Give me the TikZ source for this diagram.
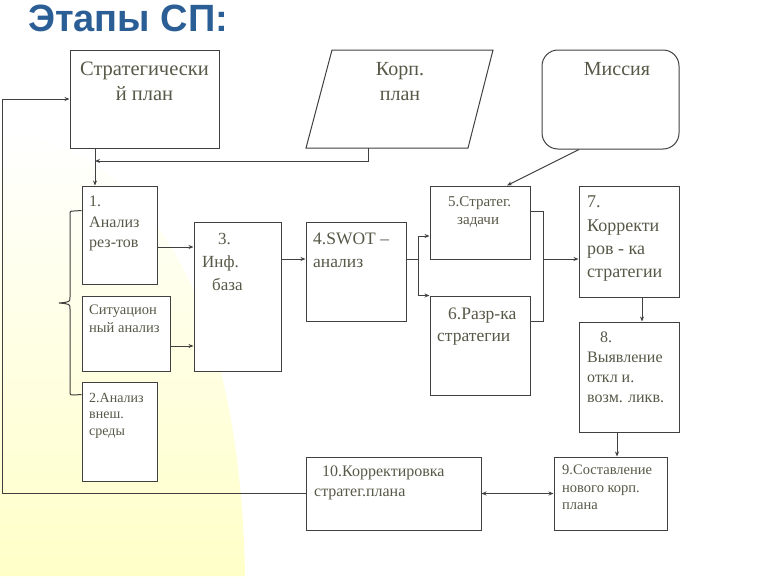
\documentclass[tikz,border=0pt]{standalone}
\usepackage{fontspec}
\setmainfont{Liberation Serif}
\newfontfamily\titlefont{Liberation Sans}
\usetikzlibrary{arrows.meta}

\definecolor{titleblue}{RGB}{44,94,150}
\definecolor{linegray}{RGB}{64,64,64}
\definecolor{txtgray}{RGB}{88,88,72}
\definecolor{glow}{RGB}{255,255,200}

\begin{document}
\begin{tikzpicture}[x=1pt, y=-1pt,
    box/.style={draw=linegray, fill=white, line width=1pt, inner sep=0pt},
    txt/.style={text=txtgray, inner sep=0pt, align=left, anchor=north west},
    ln/.style={draw=linegray, line width=1pt},
    arr/.style={ln, -{Stealth[length=5pt,width=4pt]}}]
  \useasboundingbox (0,0) rectangle (768,576);
  % background
  \shade[top color=white, bottom color=glow] (0,130) .. controls (150,150) and (240,300) .. (245,576)
    -- (0,576) -- cycle;
  \node[anchor=north west, inner sep=0pt, text=titleblue,
        font=\titlefont\bfseries\fontsize{38}{40}\selectfont] (title) at (28,5) {Этапы СП:};

  % top row
  \node[box, minimum width=149pt, minimum height=98pt] (sp) at (144.5,99) {};
  \node[txt, anchor=north, align=center, font=\fontsize{20.5}{25}\selectfont] (sp-t) at (144.5,62) {Стратегически\\й план};
  \draw[ln, fill=white] (332,50) -- (493,50) -- (468,148) -- (306,148) -- cycle;
  \coordinate (korp) at (368,148);
  \node[txt, anchor=north, align=center, font=\fontsize{20}{25}\selectfont] (korp-t) at (400,62) {Корп.\\план};
  \node[box, rounded corners=16pt, minimum width=137pt, minimum height=99pt] (mis) at (610.5,99.5) {};
  \node[txt, anchor=north, align=center, font=\fontsize{20}{25}\selectfont] (mis-t) at (617,62) {Миссия};

  % analysis column
  \node[box, minimum width=75pt, minimum height=98pt] (an1) at (119.5,235) {};
  \node[txt, font=\fontsize{16}{20.5}\selectfont] (an1-t) at (89,196) {1.\\Анализ\\рез-тов};
  \node[box, minimum width=88pt, minimum height=75pt] (sit) at (126,333.5) {};
  \node[txt, font=\fontsize{14.5}{18}\selectfont] (sit-t) at (89,305) {Ситуацион\\ный анализ};
  \node[box, minimum width=75pt, minimum height=99pt] (an2) at (119.5,431.5) {};
  \node[txt, font=\fontsize{14}{16.5}\selectfont] (an2-t) at (89,393) {2.Анализ\\внеш.\\среды};

  \node[box, minimum width=87pt, minimum height=149pt] (inf) at (237.5,296.5) {};
  \node[txt, font=\fontsize{17}{23}\selectfont] (inf-t) at (202,233) {\hspace*{16pt}3.\\Инф.\\\hspace*{10pt}база};
  \node[box, minimum width=100pt, minimum height=99pt] (swot) at (356,271.5) {};
  \node[txt, font=\fontsize{17.5}{23}\selectfont] (swot-t) at (313,233) {4.SWOT –\\анализ};
  \node[box, minimum width=100pt, minimum height=73pt] (zad) at (480,222.5) {};
  \node[txt, font=\fontsize{15}{18}\selectfont] (zad-t) at (448,196) {5.Стратег.\\\hspace*{9pt}задачи};
  \node[box, minimum width=100pt, minimum height=99pt] (razr) at (480,345.5) {};
  \node[txt, font=\fontsize{17.5}{22}\selectfont] (razr-t) at (437,308) {\hspace*{11pt}6.Разр-ка\\стратегии};
  \node[box, minimum width=100pt, minimum height=111pt] (korr) at (629,241.5) {};
  \node[txt, font=\fontsize{18}{23.3}\selectfont] (korr-t) at (587,196) {7.\\Корректи\\ров - ка\\стратегии};
  \node[box, minimum width=100pt, minimum height=110pt] (vyav) at (629,377) {};
  \node[txt, font=\fontsize{16}{20}\selectfont] (vyav-t) at (587,332) {\hspace*{13pt}8.\\Выявление\\откл и.\\возм. ликв.};
  \node[box, minimum width=113pt, minimum height=73pt] (sost) at (610.5,493.5) {};
  \node[txt, font=\fontsize{14.5}{17.5}\selectfont] (sost-t) at (562,465) {9.Составление\\нового корп.\\плана};
  \node[box, minimum width=175pt, minimum height=73pt] (kplan) at (393.5,493.5) {};
  \node[txt, font=\fontsize{16}{19.5}\selectfont] (kplan-t) at (314,466) {\hspace*{8pt}10.Корректировка\\стратег.плана};

  % connectors
  \coordinate (j1) at (95,161);
  \draw[arr] (sp.south -| j1) -- (an1.north -| j1);
  \draw[arr] (korp) |- (j1);
  \coordinate (fb) at (2,0);
  \draw[arr] (kplan.west) -- (kplan.west -| fb) |- (sp.west);
  \draw[arr] ([xshift=-31.5pt]mis.south) -- ([xshift=27pt]zad.north);
  % brace
  \draw[ln] ([yshift=-25pt]an1.north west) -- (74,211) .. controls (70,211) .. (70,215)
    -- (70,297) .. controls (70,302) .. (59,303) .. controls (70,304) .. (70,309)
    -- (70,391) .. controls (70,395) .. (74,395) -- ([yshift=-13pt]an2.north west);
  \draw[arr] ([yshift=-12pt]an1.east) coordinate (a1) -- (a1 -| inf.west);
  \draw[arr] ([yshift=-12.5pt]sit.east) coordinate (a2) -- (a2 -| inf.west);
  \draw[arr] ([yshift=37.5pt]inf.east) coordinate (a3) -- (a3 -| swot.west);
  \coordinate (s1) at (418,0);
  \draw[ln] ([yshift=12.5pt]swot.east) coordinate (a4) -- (a4 -| s1);
  \draw[arr] (a4 -| s1) |- ([yshift=-13.5pt]zad.west);
  \draw[arr] (a4 -| s1) |- (razr.north west);
  \coordinate (s2) at (543,0);
  \path ([yshift=24.5pt]razr.east) coordinate (a6);
  \draw[ln] ([yshift=11.5pt]zad.east) -| (a6 -| s2) -- (a6);
  \path ([yshift=-17.5pt]korr.west) coordinate (a7);
  \draw[arr] (a7 -| s2) -- (a7);
  \draw[arr] ([xshift=13pt]korr.south) -- ([xshift=13pt]vyav.north);
  \draw[arr] ([xshift=-12pt]vyav.south) coordinate (a8) -- (a8 |- sost.north);
  \draw[ln, {Stealth[length=5pt,width=4pt]}-{Stealth[length=5pt,width=4pt]}] (sost.west) -- (kplan.east);
\end{tikzpicture}
\end{document}
